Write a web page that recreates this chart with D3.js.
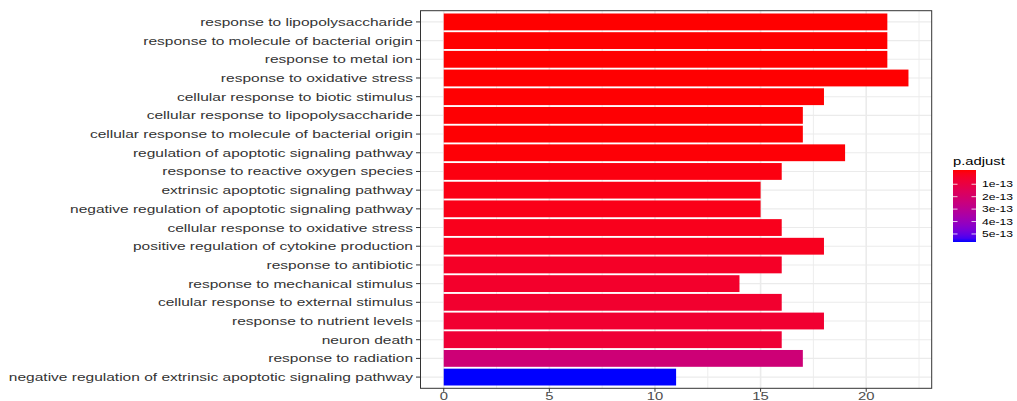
<!DOCTYPE html>
<html>
<head>
<meta charset="utf-8">
<script src="https://cdn.jsdelivr.net/npm/d3@7"></script>
<style>
html,body{margin:0;padding:0;background:#fff;}
svg{display:block;font-family:"Liberation Sans",Arial,sans-serif;}
</style>
</head>
<body>
<svg id="chart" width="1017" height="401"></svg>
<script>
const categories = [
  "response to lipopolysaccharide",
  "response to molecule of bacterial origin",
  "response to metal ion",
  "response to oxidative stress",
  "cellular response to biotic stimulus",
  "cellular response to lipopolysaccharide",
  "cellular response to molecule of bacterial origin",
  "regulation of apoptotic signaling pathway",
  "response to reactive oxygen species",
  "extrinsic apoptotic signaling pathway",
  "negative regulation of apoptotic signaling pathway",
  "cellular response to oxidative stress",
  "positive regulation of cytokine production",
  "response to antibiotic",
  "response to mechanical stimulus",
  "cellular response to external stimulus",
  "response to nutrient levels",
  "neuron death",
  "response to radiation",
  "negative regulation of extrinsic apoptotic signaling pathway"
];
const counts = [21,21,21,22,18,17,17,19,16,15,15,16,18,16,14,16,18,16,17,11];
const pAdjust = [1e-17,1e-17,2e-16,1e-15,2e-15,3e-15,3e-15,5e-15,1.5e-14,2e-14,2.5e-14,3e-14,3.5e-14,5e-14,6e-14,6.5e-14,7e-14,8e-14,2.3e-13,5.5e-13];
const xTicks = [0,5,10,15,20];
const xMinorTicks = [2.5,7.5,12.5,17.5,22.5];
const legendTicks = [1e-13,2e-13,3e-13,4e-13,5e-13];
const legendTickLabels = ["1e-13","2e-13","3e-13","4e-13","5e-13"];

const SX = 1.41; // horizontal stretch of the reference image
const svg = d3.select("#chart");

const panel = {left:420.5, right:931.7, top:10.7, bottom:388.3};
const xMax = d3.max(counts);
const x = d3.scaleLinear().domain([-0.05*xMax, 1.05*xMax]).range([panel.left, panel.right]);
const y = d3.scalePoint().domain(categories).range([panel.top, panel.bottom]).padding(0.6);
const yc = d => y(d);
const barH = y.step()*0.9;

const pExt = [d3.min(pAdjust), d3.max(pAdjust)];
const color = d3.scaleLinear().domain(pExt).range(["#FF0000","#0000FF"]).interpolate(d3.interpolateLab);

// panel background
svg.append("rect").attr("x",panel.left).attr("y",panel.top)
  .attr("width",panel.right-panel.left).attr("height",panel.bottom-panel.top).attr("fill","#fff");

const grid = svg.append("g");
grid.selectAll("line.minor").data(xMinorTicks).join("line")
  .attr("x1",d=>x(d)).attr("x2",d=>x(d)).attr("y1",panel.top).attr("y2",panel.bottom)
  .attr("stroke","#EBEBEB").attr("stroke-width",0.9);
grid.selectAll("line.major").data(xTicks).join("line")
  .attr("x1",d=>x(d)).attr("x2",d=>x(d)).attr("y1",panel.top).attr("y2",panel.bottom)
  .attr("stroke","#EBEBEB").attr("stroke-width",1.6);
grid.selectAll("line.hmajor").data(categories).join("line")
  .attr("x1",panel.left).attr("x2",panel.right).attr("y1",d=>yc(d)).attr("y2",d=>yc(d))
  .attr("stroke","#EBEBEB").attr("stroke-width",1.1);

// bars
svg.append("g").selectAll("rect").data(categories).join("rect")
  .attr("x",x(0))
  .attr("y",(d)=>yc(d)-barH/2)
  .attr("width",(d,i)=>x(counts[i])-x(0))
  .attr("height",barH)
  .attr("fill",(d,i)=>color(pAdjust[i]));

// panel border
svg.append("rect").attr("x",panel.left).attr("y",panel.top)
  .attr("width",panel.right-panel.left).attr("height",panel.bottom-panel.top)
  .attr("fill","none").attr("stroke","#333").attr("stroke-width",1);

// y axis ticks + labels
const yAx = svg.append("g");
yAx.selectAll("line").data(categories).join("line")
  .attr("x1",panel.left-4.5).attr("x2",panel.left).attr("y1",d=>yc(d)).attr("y2",d=>yc(d))
  .attr("stroke","#333").attr("stroke-width",1);
yAx.selectAll("text").data(categories).join("text")
  .attr("transform",d=>`translate(${panel.left-7.5},${yc(d)}) scale(${SX},1)`)
  .attr("text-anchor","end").attr("dy","0.36em")
  .attr("font-size",11).attr("fill","#333")
  .text(d=>d);

// x axis ticks + labels
const xAx = svg.append("g");
xAx.selectAll("line").data(xTicks).join("line")
  .attr("x1",d=>x(d)).attr("x2",d=>x(d)).attr("y1",panel.bottom).attr("y2",panel.bottom+3.5)
  .attr("stroke","#333").attr("stroke-width",1);
xAx.selectAll("text").data(xTicks).join("text")
  .attr("transform",d=>`translate(${x(d)},400) scale(${SX},1)`)
  .attr("text-anchor","middle")
  .attr("font-size",10.5).attr("fill","#4D4D4D")
  .text(d=>d);

// legend
const leg = {x:953, w:23, top:170, bottom:242};
const nb = 20, off = (leg.bottom-leg.top)*0.5/nb;
const ly = d3.scaleLinear().domain(pExt).range([leg.top+off, leg.bottom-off]);
const defs = svg.append("defs");
const grad = defs.append("linearGradient").attr("id","pgrad").attr("x1",0).attr("x2",0).attr("y1",0).attr("y2",1);
d3.range(0,1.0001,0.05).forEach(t=>{
  grad.append("stop").attr("offset",t).attr("stop-color",color(pExt[0]+t*(pExt[1]-pExt[0])));
});
svg.append("text").attr("transform",`translate(${leg.x},165) scale(${SX},1)`)
  .attr("font-size",10.5).attr("fill","#000").text("p.adjust");
svg.append("rect").attr("x",leg.x).attr("y",leg.top).attr("width",leg.w).attr("height",leg.bottom-leg.top)
  .attr("fill","url(#pgrad)");
const lt = svg.append("g");
legendTicks.forEach((v,i)=>{
  const yy = ly(v);
  lt.append("line").attr("x1",leg.x).attr("x2",leg.x+4.5).attr("y1",yy).attr("y2",yy).attr("stroke","#fff").attr("stroke-width",0.8);
  lt.append("line").attr("x1",leg.x+leg.w-4.5).attr("x2",leg.x+leg.w).attr("y1",yy).attr("y2",yy).attr("stroke","#fff").attr("stroke-width",0.8);
  lt.append("text").attr("transform",`translate(${leg.x+leg.w+6},${yy}) scale(${SX},1)`)
    .attr("dy","0.35em").attr("font-size",8.6).attr("fill","#000").text(legendTickLabels[i]);
});
</script>
</body>
</html>
